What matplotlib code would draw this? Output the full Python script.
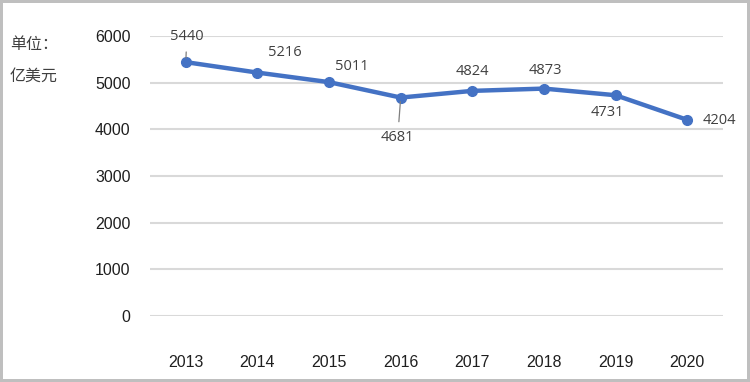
"""Line chart: yearly values (亿美元), 2013-2020, with data labels."""

import matplotlib.pyplot as plt

plt.rcParams["font.family"] = ["Liberation Sans", "Noto Sans CJK SC", "DejaVu Sans"]

# ---------------------------------------------------------------------------
# data
# ---------------------------------------------------------------------------
years = ["2013", "2014", "2015", "2016", "2017", "2018", "2019", "2020"]
values = [5440, 5216, 5011, 4681, 4824, 4873, 4731, 4204]
y_ticks = [0, 1000, 2000, 3000, 4000, 5000, 6000]

# label offsets from each point, in pixels (x right, y up); leader = draw line
label_offsets = [(1, 26), (27, 20), (23, 16), (-3, -40), (0, 19), (1, 18), (-8, -17), (32, -1)]
leaders = [True, False, False, True, False, False, False, False]

LINE_COLOR = "#4472C4"
GRID_COLOR = "#d9d9d9"
TEXT_COLOR = "#404040"

fig = plt.figure(figsize=(7.5, 3.82), dpi=100)
fig.patch.set_edgecolor("#bfbfbf")
fig.patch.set_linewidth(3)

ax = fig.add_axes([150 / 750, 66 / 382, 573 / 750, 280 / 382])
x = list(range(len(years)))
ax.plot(x, values, color=LINE_COLOR, linewidth=3.2, marker="o", markersize=7,
        solid_capstyle="round", zorder=3)

for xi, v, (dx, dy), lead in zip(x, values, label_offsets, leaders):
    arrow = None
    if lead:
        arrow = dict(arrowstyle="-", color="#7f7f7f", lw=0.9, shrinkA=4, shrinkB=3)
    ax.annotate(str(v), (xi, v), xytext=(dx, dy), textcoords="offset pixels",
                ha="center", va="center", fontsize=10.5, color=TEXT_COLOR,
                family=["Open Sans", "DejaVu Sans"], arrowprops=arrow)

ax.set_xlim(-0.5, len(years) - 0.5)
ax.set_ylim(0, 6000)
ax.set_yticks(y_ticks)
ax.set_xticks(x)
ax.set_xticklabels(years)
ax.tick_params(axis="both", length=0, labelsize=11.5, colors="#1f1f1f")
ax.tick_params(axis="y", pad=14)
ax.tick_params(axis="x", pad=28)
ax.grid(axis="y", color=GRID_COLOR, linewidth=1.5)
ax.set_axisbelow(True)
for s in ax.spines.values():
    s.set_visible(False)

# unit label at the top left
fig.text(10 / 750, 1 - 45 / 382, "单位：", fontsize=11.5, color=TEXT_COLOR,
         family=["Noto Sans CJK SC"], va="center")
fig.text(10 / 750, 1 - 76 / 382, "亿美元", fontsize=11.5, color=TEXT_COLOR,
         family=["Noto Sans CJK SC"], va="center")

fig.savefig("out.png", dpi=100)
